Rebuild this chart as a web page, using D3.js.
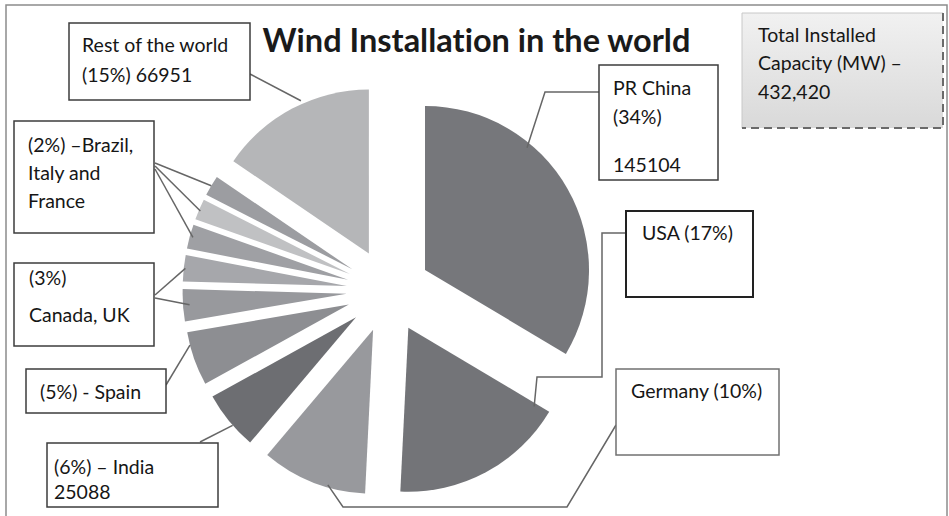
<!DOCTYPE html>
<html>
<head>
<meta charset="utf-8">
<script src="https://cdn.jsdelivr.net/npm/d3@7"></script>
<style>
  html, body { margin: 0; padding: 0; background: #fff; }
  svg { display: block; }
  text { font-variant-ligatures: none; }
</style>
</head>
<body>
<svg id="chart" width="949" height="516"></svg>
<script>
// Installed wind capacity by country (MW)
const countries = ["PR China", "USA", "Germany", "India", "Spain", "UK", "Canada", "France", "Italy", "Brazil", "Rest of the world"];
const capacityMW = [145104, 74471, 44947, 25088, 23025, 13603, 11205, 10358, 8958, 8715, 66951];
const sliceColors = ["#76777b", "#737478", "#98999d", "#6d6e72", "#8d8e92", "#98999d", "#a6a7ab", "#9fa0a4", "#c0c1c3", "#9c9da1", "#b5b6b8"];

const titleText = "Wind Installation in the world";
const totalLines = ["Total Installed", "Capacity (MW) \u2013", "432,420"];

// Callout texts and the slices (by index into countries) each callout points to
const calloutLines = [
  ["PR China", "(34%)", "", "145104"],
  ["USA (17%)"],
  ["Germany (10%)"],
  ["(6%) \u2013 India", "25088"],
  ["(5%) - Spain"],
  ["(3%)", "Canada, UK"],
  ["(2%) \u2013Brazil,", "Italy and", "France"],
  ["Rest of the world", "(15%) 66951"]
];
const calloutTargets = [[0], [1], [2], [3], [4], [6, 5], [9, 8, 7], [10]];

// ---- layout ----
const W = 949, H = 516;
const cx = 388.5, cy = 290.7, R = 164, explode = 42;
const font = "Lato, 'Open Sans', sans-serif";
const textColor = "#161616";
const labelSize = 19.5;

// Box geometry, text anchor and leader routing for each callout
const calloutLayout = [
  { box: [599, 65, 119, 115], tx: 613, ty: [88, 117, 141, 165],
    legs: [{ from: [599, 92], via: [[545, 92]], f: 0.33, k: 0.97 }] },
  { box: [626, 211, 127, 86], tx: 642, ty: [233], stroke: "#222", sw: 2,
    legs: [{ from: [626, 233], via: [[602, 233], [602, 377], [537, 377]], f: 0.02, k: 0.905 }] },
  { box: [616, 369, 163, 86], tx: 631, ty: [391], stroke: "#707070",
    legs: [{ from: [616, 425], via: [[567, 507], [343, 507]], f: 0.36, k: 0.985 }] },
  { box: [47, 443, 171, 64], tx: 54, ty: [467, 492],
    legs: [{ from: [200, 442], via: [], f: 0.41, k: 1.0 }] },
  { box: [26, 369, 140, 44], tx: 40, ty: [392],
    legs: [{ from: [166, 385], via: [], f: 0.76, k: 1.0 }] },
  { box: [14, 263, 140, 83], tx: 29, ty: [278, 315],
    legs: [{ from: [155, 295], via: [], f: 0.5, k: 0.99 },
           { from: [155, 298], via: [], f: 0.5, k: 0.96 }] },
  { box: [14, 121, 140, 112], tx: 28, ty: [145, 173, 201],
    legs: [{ from: [155, 163], via: [], f: 0.5, k: 1.0 },
           { from: [155, 166], via: [], f: 0.45, k: 0.99 },
           { from: [155, 169], via: [], f: 0.5, k: 0.98 }] },
  { box: [69, 23, 181, 77], tx: 82, ty: [45, 75],
    legs: [{ from: [250, 74], via: [], f: 0.57, k: 1.02 }] }
];

const svg = d3.select("#chart");

// Chart frame
svg.append("rect")
  .attr("x", 6).attr("y", 5).attr("width", 941).attr("height", 600)
  .attr("fill", "#fff").attr("stroke", "#8c8c8c").attr("stroke-width", 1.5);

// Pie
const pie = d3.pie().sort(null).value(d => d);
const arcs = pie(capacityMW);
const arcGen = d3.arc().innerRadius(0).outerRadius(R);

function offsetOf(a) {
  const mid = (a.startAngle + a.endAngle) / 2;
  return [cx + explode * Math.sin(mid), cy - explode * Math.cos(mid)];
}

svg.append("g").selectAll("path")
  .data(arcs)
  .join("path")
  .attr("transform", a => `translate(${offsetOf(a)})`)
  .attr("d", arcGen)
  .attr("fill", (a, i) => sliceColors[i]);

// Point on a slice: fraction f across its angle, fraction k of the radius
function slicePoint(i, f, k) {
  const a = arcs[i];
  const [ox, oy] = offsetOf(a);
  const ang = a.startAngle + f * (a.endAngle - a.startAngle);
  return [ox + R * k * Math.sin(ang), oy - R * k * Math.cos(ang)];
}

// Leader lines
const leaderG = svg.append("g");
calloutLayout.forEach((c, ci) => {
  c.legs.forEach((leg, li) => {
    const target = calloutTargets[ci][li];
    const pts = [leg.from, ...leg.via, slicePoint(target, leg.f, leg.k)];
    leaderG.append("path")
      .attr("d", d3.line()(pts))
      .attr("fill", "none")
      .attr("stroke", "#666")
      .attr("stroke-width", 1.5);
  });
});

// Callout boxes
const boxG = svg.append("g");
calloutLayout.forEach((c, ci) => {
  const [x, y, w, h] = c.box;
  boxG.append("rect")
    .attr("x", x).attr("y", y).attr("width", w).attr("height", h)
    .attr("fill", "#fff")
    .attr("stroke", c.stroke || "#3c3c3c")
    .attr("stroke-width", c.sw || 1.5);
  calloutLines[ci].forEach((line, li) => {
    if (!line) return;
    boxG.append("text")
      .attr("x", c.tx).attr("y", c.ty[li])
      .attr("dy", "0.35em")
      .attr("font-family", font)
      .attr("font-size", labelSize)
      .attr("fill", textColor)
      .text(line);
  });
});

// Total capacity box
const defs = svg.append("defs");
const grad = defs.append("linearGradient").attr("id", "totalFill")
  .attr("x1", 0).attr("y1", 0).attr("x2", 0).attr("y2", 1);
grad.append("stop").attr("offset", "0%").attr("stop-color", "#f1f1f1");
grad.append("stop").attr("offset", "100%").attr("stop-color", "#d9d9d9");

const tb = { x: 742, y: 13, w: 201, h: 115 };
svg.append("rect")
  .attr("x", tb.x).attr("y", tb.y).attr("width", tb.w).attr("height", tb.h)
  .attr("fill", "url(#totalFill)");
svg.append("path")
  .attr("d", d3.line()([[tb.x, tb.y + tb.h], [tb.x, tb.y], [tb.x + tb.w, tb.y]]))
  .attr("fill", "none").attr("stroke", "#c8c8c8").attr("stroke-width", 1);
svg.append("path")
  .attr("d", d3.line()([[tb.x + tb.w, tb.y], [tb.x + tb.w, tb.y + tb.h], [tb.x, tb.y + tb.h]]))
  .attr("fill", "none").attr("stroke", "#6a6a6a").attr("stroke-width", 2)
  .attr("stroke-dasharray", "8,5");
totalLines.forEach((line, i) => {
  svg.append("text")
    .attr("x", 758).attr("y", 35 + i * 28.5)
    .attr("dy", "0.35em")
    .attr("font-family", font)
    .attr("font-size", labelSize)
    .attr("fill", textColor)
    .text(line);
});

// Title
svg.append("text")
  .attr("x", 476.5).attr("y", 52)
  .attr("text-anchor", "middle")
  .attr("font-family", font)
  .attr("font-weight", "bold")
  .attr("font-size", 32.5)
  .attr("fill", "#1a1a1a")
  .text(titleText);
</script>
</body>
</html>
